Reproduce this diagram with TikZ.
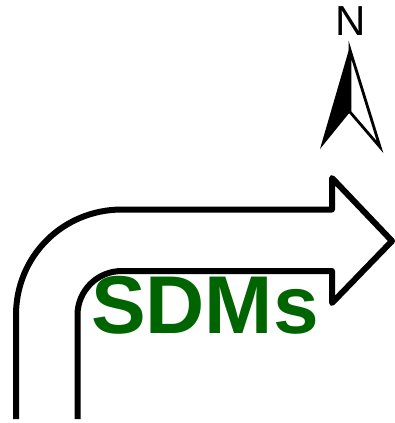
\documentclass[tikz,border=0pt]{standalone}
\usepackage{fontspec}
\setmainfont{Liberation Sans}
\definecolor{sdmgreen}{HTML}{006400}
\tikzset{
  bentarrow/.style={draw=black,line width=6pt,line join=round,line cap=butt},
  sdmlabel/.style={text=sdmgreen,font=\fontsize{82}{82}\selectfont\bfseries,inner sep=0pt,anchor=base},
  northlabel/.style={text=black,font=\fontsize{42}{42}\selectfont,inner sep=0pt,anchor=base}
}
\begin{document}
\begin{tikzpicture}[x=1pt,y=-1pt]
\useasboundingbox (0,0) rectangle (394,423);
\fill[white] (0,0) rectangle (394,423);
% bent arrow
\draw[bentarrow] (16,419) -- (16,315) .. controls (16,256) and (63,209.5) .. (122,209.5)
  -- (332,209.5) -- (332,178) -- (392,241) -- (332,303) -- (332,271) -- (122,271)
  .. controls (97,271) and (77.5,291) .. (77.5,315) -- (77.5,419);
\node[sdmlabel] (sdm) at (205,333.5) {SDMs};
% north arrow
\node[northlabel] (north) at (350.5,35) {N};
\fill[black] (350,46) -- (320,149) -- (350,112) -- cycle;
\draw[black,line width=2.8pt,line join=miter] (350,50) -- (380,147) -- (350,112) -- cycle;
\end{tikzpicture}
\end{document}
